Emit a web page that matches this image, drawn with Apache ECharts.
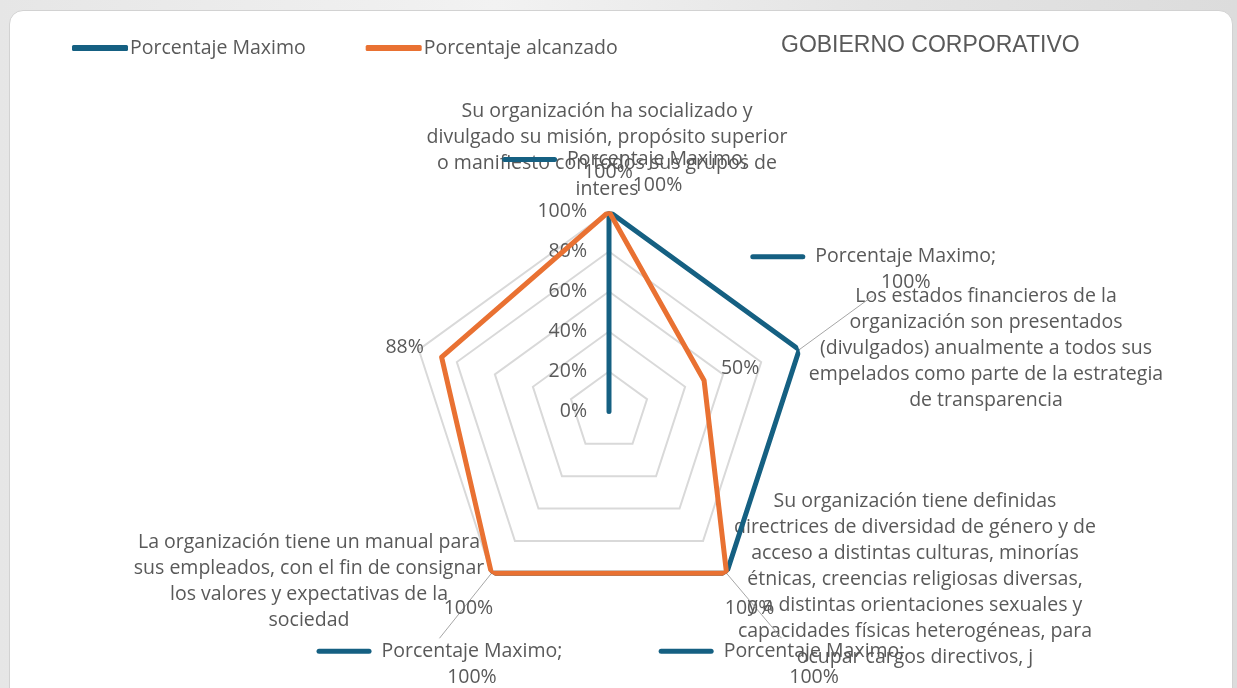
<!DOCTYPE html>
<html>
<head>
<meta charset="utf-8">
<title>Gobierno corporativo</title>
<script src="https://cdn.jsdelivr.net/npm/echarts@6/dist/echarts.min.js"></script>
<style>
  html, body { margin: 0; padding: 0; width: 1237px; height: 688px; overflow: hidden; }
  body { background: linear-gradient(90deg, #e6e6e6, #f2f2f2 40%, #e4e4e4 70%, #dcdcdc); }
  .card {
    position: absolute; left: 9px; top: 10px; width: 1222px; height: 700px;
    background: #fff; border: 1px solid #d2d2d2; border-radius: 14px;
  }
  #chart { position: absolute; left: 0; top: 0; width: 1237px; height: 688px; }
</style>
</head>
<body>
<div class="card"></div>
<div id="chart"></div>
<script>
// ---- data ----
const categories = [
  'Su organización ha socializado y\ndivulgado su misión, propósito superior\no manifiesto con todos sus grupos de\ninteres',
  'Los estados financieros de la\norganización son presentados\n(divulgados) anualmente a todos sus\nempelados como parte de la estrategia\nde transparencia',
  'Su organización tiene definidas\ndirectrices de diversidad de género y de\nacceso a distintas culturas, minorías\nétnicas, creencias religiosas diversas,\ny a distintas orientaciones sexuales y\ncapacidades físicas heterogéneas, para\nocupar cargos directivos, j',
  'La organización tiene un manual para\nsus empleados, con el fin de consignar\nlos valores y expectativas de la\nsociedad',
  ''
];
const seriesNames = ['Porcentaje Maximo', 'Porcentaje alcanzado'];
const maxValues = [100, 100, 100, 100, 0];      // last one is blank in the sheet
const reachedValues = [100, 50, 100, 100, 88];
const radiusTicks = [0, 20, 40, 60, 80, 100];
const chartTitle = 'GOBIERNO CORPORATIVO';

// ---- look ----
const FONT = 'Open Sans';
const FS = 19.5;
const TXT = '#595959';
const BLUE = '#156082';
const ORANGE = '#e97132';
const CENTER = [609, 411.5];
const RADIUS = 200;

// labels were dragged by hand in the sheet, so nudge them from their vertex
const maxLabelShift = [[16, -39], [74, -80], [55, 91], [-52, 91], [0, 0]];
const reachedLabelShift = [[-1, -39], [36, -12], [23, 35], [-23, 35], [-37, -10]];
const categoryLabelPos = [[607, 98], [986, 283], [915, 488], [309, 529], [0, 0]];

// blue line starts at the blank (centre) point and does not close
const maxOrder = [4, 0, 1, 2, 3];
const reachedOrder = [0, 1, 2, 3, 4, 0];

const chart = echarts.init(document.getElementById('chart'));

const option = {
  animation: false,
  textStyle: { fontFamily: FONT },
  title: {
    text: chartTitle,
    left: 781, top: 34, padding: 0,
    textStyle: { color: TXT, fontSize: 23, fontWeight: 'normal', fontFamily: 'Liberation Sans' }
  },
  legend: {
    data: seriesNames,
    left: 72, top: 38, padding: 0,
    icon: 'roundRect', itemWidth: 56, itemHeight: 6, itemGap: 60,
    textStyle: { color: TXT, fontSize: FS, fontFamily: FONT, padding: [0, 0, 0, -3] }
  },
  radar: {
    center: CENTER,
    radius: RADIUS,
    shape: 'polygon',
    splitNumber: radiusTicks.length - 1,
    indicator: categories.map(() => ({ name: '', min: radiusTicks[0], max: radiusTicks[radiusTicks.length - 1] })),
    axisName: { show: false },
    axisLine: { show: false },
    axisTick: { show: false },
    axisLabel: { show: false },
    splitArea: { show: false },
    splitLine: { lineStyle: { color: '#d9d9d9', width: 2 } }
  },
  polar: { center: CENTER, radius: RADIUS },
  angleAxis: {
    type: 'value', min: 0, max: categories.length, startAngle: 90, clockwise: true,
    axisLine: { show: false }, axisTick: { show: false }, axisLabel: { show: false }, splitLine: { show: false }
  },
  radiusAxis: {
    min: radiusTicks[0], max: radiusTicks[radiusTicks.length - 1], interval: radiusTicks[1] - radiusTicks[0],
    axisLine: { show: false }, axisTick: { show: false }, splitLine: { show: false },
    axisLabel: { formatter: '{value}%', color: TXT, fontSize: FS, fontFamily: FONT, margin: 22 }
  },
  graphic: categories.map((c, i) => ({
    type: 'text',
    x: categoryLabelPos[i][0], y: categoryLabelPos[i][1],
    silent: true,
    style: {
      text: c, fill: TXT, fontSize: FS, fontFamily: FONT,
      align: 'center', verticalAlign: 'top', lineHeight: 26
    }
  })),
  series: [
    {
      name: seriesNames[0],
      type: 'line',
      coordinateSystem: 'polar',
      clip: false,
      symbol: 'circle', symbolSize: 1,
      color: BLUE,
      lineStyle: { width: 5, color: BLUE, cap: 'round', join: 'round' },
      data: maxOrder.map(i => ({
        value: [maxValues[i], i],
        label: { show: maxValues[i] > 0 },
        labelLine: { show: i > 0 && i < 4 }
      })),
      label: {
        position: 'inside',
        color: TXT, fontSize: FS, fontFamily: FONT, lineHeight: 26,
        formatter: p => '{k|}{n|' + p.seriesName + ';}\n{g|}{v|' + p.value[0] + '%}',
        rich: {
          k: { width: 55, height: 5, backgroundColor: BLUE, borderRadius: 3 },
          n: { padding: [0, 0, 0, 10], color: TXT, fontSize: FS, fontFamily: FONT },
          g: { width: 65 },
          v: { width: 183, align: 'center', color: TXT, fontSize: FS, fontFamily: FONT }
        }
      },
      labelLine: { lineStyle: { color: '#a6a6a6', width: 1 } },
      labelLayout: p => {
        const s = maxLabelShift[maxOrder[p.dataIndex]];
        return { dx: s[0], dy: s[1] };
      },
      z: 2
    },
    {
      name: seriesNames[1],
      type: 'line',
      coordinateSystem: 'polar',
      clip: false,
      symbol: 'circle', symbolSize: 1,
      color: ORANGE,
      lineStyle: { width: 5, color: ORANGE, cap: 'round', join: 'round' },
      data: reachedOrder.map((i, k) => ({
        value: [reachedValues[i], i],
        label: { show: k < categories.length }
      })),
      label: {
        position: 'inside',
        color: TXT, fontSize: FS, fontFamily: FONT,
        formatter: p => p.value[0] + '%'
      },
      labelLayout: p => {
        const s = reachedLabelShift[reachedOrder[p.dataIndex]];
        return { dx: s[0], dy: s[1] };
      },
      z: 3
    }
  ]
};

chart.setOption(option);
</script>
</body>
</html>
